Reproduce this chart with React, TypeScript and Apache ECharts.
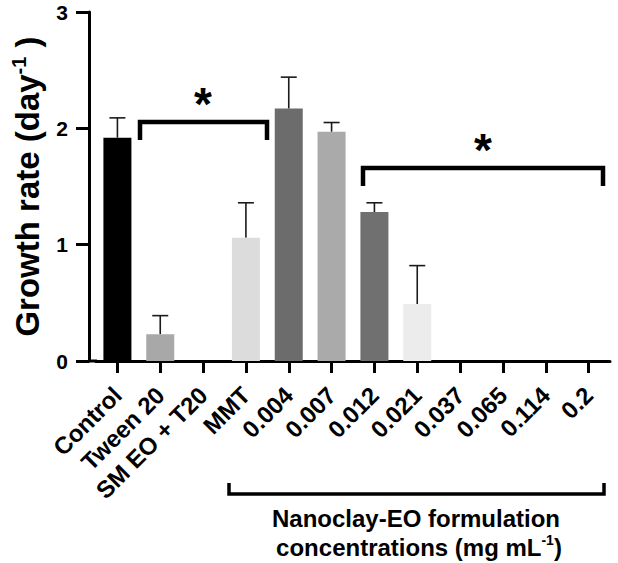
import React, { useEffect, useRef } from "react";
import * as echarts from "echarts";

const categories = ["Control", "Tween 20", "SM EO + T20", "MMT", "0.004", "0.007", "0.012", "0.021", "0.037", "0.065", "0.114", "0.2"];
const growthRate = [1.92, 0.23, 0, 1.06, 2.17, 1.97, 1.28, 0.49, 0, 0, 0, 0];
const errorTop = [2.09, 0.39, null, 1.36, 2.44, 2.05, 1.36, 0.82, null, null, null, null];
const barColors = ["#000000", "#a8a8a8", "#a8a8a8", "#dcdcdc", "#6c6c6c", "#aaaaaa", "#707070", "#ececec", "#cccccc", "#cccccc", "#cccccc", "#cccccc"];
const yTicks = [0, 1, 2, 3];

const FONT = "'Liberation Sans', Arial, sans-serif";

export default function App() {
  const ref = useRef<HTMLDivElement>(null);
  useEffect(() => {
    if (!ref.current) return;
    const chart = echarts.init(ref.current, undefined, { renderer: "svg" });
    const errData = categories.map((c, i) => [i, growthRate[i], errorTop[i]]);
    chart.setOption({
      animation: false,
      backgroundColor: "#ffffff",
      grid: { left: 96, right: 8, top: 12, bottom: 202 },
      xAxis: {
        type: "category",
        data: categories,
        axisLine: { lineStyle: { color: "#000", width: 3 } },
        axisTick: { show: true, length: 12, lineStyle: { color: "#000", width: 3 }, alignWithLabel: true },
        axisLabel: {
          rotate: 45,
          margin: 30,
          color: "#000",
          fontFamily: FONT,
          fontWeight: "bold",
          fontSize: 24,
          interval: 0,
        },
      },
      yAxis: {
        type: "value",
        min: yTicks[0],
        max: yTicks[yTicks.length - 1],
        interval: 1,
        offset: 7,
        splitLine: { show: false },
        axisLine: { show: true, lineStyle: { color: "#000", width: 3 } },
        axisTick: { show: true, length: 13, lineStyle: { color: "#000", width: 3 } },
        axisLabel: { margin: 21, color: "#000", fontFamily: FONT, fontWeight: "bold", fontSize: 21 },
        name: "{a|Growth rate (day}{b|-1}{a| )}",
        nameLocation: "middle",
        nameRotate: 90,
        nameGap: 40,
        nameTextStyle: {
          rich: {
            a: { fontFamily: FONT, fontWeight: "bold", fontSize: 33, color: "#000", lineHeight: 36 },
            b: { fontFamily: FONT, fontWeight: "bold", fontSize: 20, color: "#000", lineHeight: 36, padding: [0, 0, 16, 0] },
          },
        },
      },
      series: [
        {
          type: "bar",
          barWidth: 28,
          data: growthRate.map((v, i) => ({ value: v, itemStyle: { color: barColors[i] } })),
        },
        {
          type: "custom",
          data: errData,
          z: 1,
          renderItem: (params: any, api: any) => {
            const top = api.value(2);
            if (top === null || top === undefined || isNaN(top)) return null;
            const x = api.value(0);
            const p0 = api.coord([x, api.value(1)]);
            const p1 = api.coord([x, top]);
            const style = { stroke: "#1a1a1a", lineWidth: 1.6 };
            return {
              type: "group",
              children: [
                { type: "line", shape: { x1: p0[0], y1: p0[1], x2: p1[0], y2: p1[1] }, style },
                { type: "line", shape: { x1: p1[0] - 8, y1: p1[1], x2: p1[0] + 8, y2: p1[1] }, style },
              ],
            };
          },
        },
      ],
      graphic: [
        { type: "line", shape: { x1: 88, y1: 361, x2: 97, y2: 361 }, style: { stroke: "#000", lineWidth: 3 } },
        { type: "polyline", shape: { points: [[140, 140], [140, 122], [267, 122], [267, 140]] }, style: { stroke: "#000", lineWidth: 4.5, fill: null } },
        { type: "text", x: 203, y: 104, style: { text: "*", font: `bold 46px ${FONT}`, fill: "#000", align: "center", verticalAlign: "middle" } },
        { type: "polyline", shape: { points: [[363, 186], [363, 168], [603, 168], [603, 186]] }, style: { stroke: "#000", lineWidth: 4.5, fill: null } },
        { type: "text", x: 483, y: 150, style: { text: "*", font: `bold 46px ${FONT}`, fill: "#000", align: "center", verticalAlign: "middle" } },
        { type: "polyline", shape: { points: [[229, 483], [229, 494], [604, 494], [604, 483]] }, style: { stroke: "#000", lineWidth: 3.5, fill: null } },
        { type: "text", x: 416, y: 518, style: { text: "Nanoclay-EO formulation", font: `bold 24px ${FONT}`, fill: "#000", align: "center", verticalAlign: "middle" } },
        {
          type: "text",
          x: 419,
          y: 547,
          style: {
            text: "{a|concentrations (mg mL}{b|-1}{a|)}",
            fill: "#000",
            align: "center",
            verticalAlign: "middle",
            rich: {
              a: { font: `bold 24px ${FONT}`, fill: "#000", lineHeight: 28 },
              b: { font: `bold 14px ${FONT}`, fill: "#000", lineHeight: 28, padding: [0, 0, 14, 0] },
            },
          },
        },
      ],
    });
    return () => chart.dispose();
  }, []);
  return <div ref={ref} style={{ position: "absolute", left: 0, top: 0, width: 618, height: 563 }} />;
}
